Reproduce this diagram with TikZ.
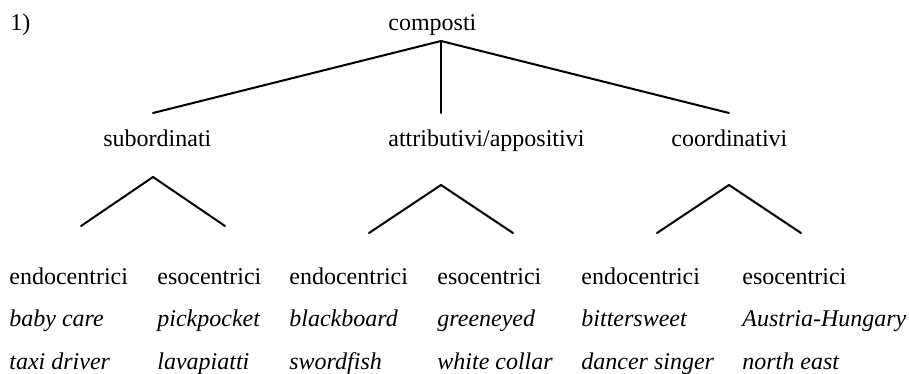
\documentclass[tikz,border=0pt]{standalone}
\usepackage{fontspec}
\setmainfont{Liberation Serif}
\begin{document}
\begin{tikzpicture}[x=0.5pt,y=-0.5pt,
	lab/.style={anchor=base west,inner sep=0pt,font=\fontsize{12}{14}\selectfont},
	ex/.style={lab,font=\fontsize{12}{14}\selectfont\itshape},
	branch/.style={line width=1pt,line cap=round}]
	
	\useasboundingbox (0,0) rectangle (909,374);
	\node[lab] (num) at (10,31) {1)};
	\node[lab] (comp) at (388,31) {composti};
	\coordinate (top) at (441,41);
	\coordinate (subtop) at (153,113);
	\coordinate (atttop) at (441,113);
	\coordinate (cootop) at (729,113);
	\draw[branch] (subtop) -- (top) -- (cootop);
	\draw[branch] (top) -- (atttop);
	
	\node[lab] (sub) at (103,146) {subordinati};
	\node[lab] (att) at (388,146) {attributivi/appositivi};
	\node[lab] (coo) at (671,146) {coordinativi};
	
	\coordinate (subv) at (153,177);
	\coordinate (subl) at (81,226);
	\coordinate (subr) at (225,226);
	\draw[branch] (subl) -- (subv) -- (subr);
	\coordinate (attv) at (441,185);
	\coordinate (attl) at (369,233);
	\coordinate (attr) at (513,233);
	\draw[branch] (attl) -- (attv) -- (attr);
	\coordinate (coov) at (729,185);
	\coordinate (cool) at (657,233);
	\coordinate (coor) at (801,233);
	\draw[branch] (cool) -- (coov) -- (coor);
	
	\node[lab] (subendo) at (9,284) {endocentrici};
	\node[ex] (subendoa) at (9,326.5) {baby care};
	\node[ex] (subendob) at (9,369) {taxi driver};
	\node[lab] (subeso) at (157,284) {esocentrici};
	\node[ex] (subesoa) at (157,326.5) {pickpocket};
	\node[ex] (subesob) at (157,369) {lavapiatti};
	
	\node[lab] (attendo) at (289,284) {endocentrici};
	\node[ex] (attendoa) at (289,326.5) {blackboard};
	\node[ex] (attendob) at (289,369) {swordfish};
	\node[lab] (atteso) at (437,284) {esocentrici};
	\node[ex] (attesoa) at (437,326.5) {greeneyed};
	\node[ex] (attesob) at (437,369) {white collar};
	
	\node[lab] (cooendo) at (581,284) {endocentrici};
	\node[ex] (cooendoa) at (581,326.5) {bittersweet};
	\node[ex] (cooendob) at (581,369) {dancer singer};
	\node[lab] (cooeso) at (742,284) {esocentrici};
	\node[ex] (cooesoa) at (742,326.5) {Austria-Hungary};
	\node[ex] (cooesob) at (742,369) {north east};
	
\end{tikzpicture}
\end{document}
